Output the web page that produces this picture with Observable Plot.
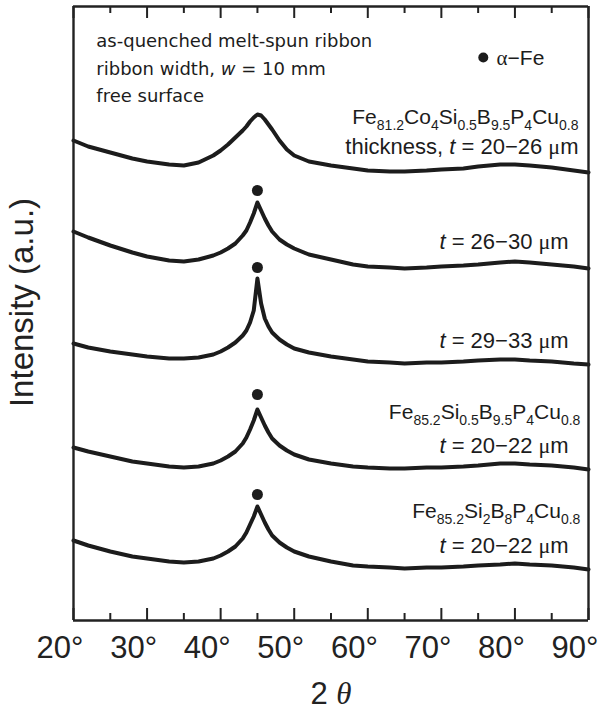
<!DOCTYPE html>
<html><head><meta charset="utf-8">
<script src="https://cdn.jsdelivr.net/npm/d3@7"></script>
<script src="https://cdn.jsdelivr.net/npm/@observablehq/plot@0.6"></script>
<style>body{margin:0;background:#fff}#chart{width:599px;height:716px}</style>
</head><body><div id="chart"></div>
<script>
// 2θ sample positions (degrees)
const theta = [20,22,25,28,30,33,35,37,39,40,41,42,43,43.5,44,44.5,45,45.5,46,46.5,47,48,49,50,52,55,58,60,63,65,68,70,73,75,78,80,82,85,88,90];
// stacked intensities (a.u., offsets included)
const fe812Co_t20_26 = [480,474,468,462,459,456,455,458,465,470,476,483,490,494,499,503,506,505,501,496,491,480,471,465,459,455,452,450,449,449,450,451,452,454,456,456,455,453,450,448];
const fe812Co_t26_30 = [389,383,375,368,364,360,359,361,365,368,372,377,385,390,398,407,418,410,402,395,389,381,376,372,366,361,356,354,353,352,353,354,355,356,358,359,358,356,354,352];
const fe812Co_t29_33 = [277,273,269,266,264,262,262,263,266,269,273,278,285,290,298,310,342,317,302,294,288,281,276,272,268,264,261,259,258,257,258,258,259,260,261,261,260,259,257,256];
const fe852Si05_t20_22 = [173,169,164,159,157,154,153,154,157,160,164,169,177,183,191,200,211,203,195,188,182,175,170,166,161,157,154,153,152,152,153,153,154,155,157,157,156,155,153,151];
const fe852Si2_t20_22 = [80,75,69,64,62,59,58,59,62,65,69,74,82,88,96,104,114,106,98,91,85,78,73,69,64,59,55,54,53,52,53,53,54,55,56,57,56,55,53,51];
const seriesNames = ["Fe81.2Co4 t=20-26","Fe81.2Co4 t=26-30","Fe81.2Co4 t=29-33","Fe85.2Si0.5 t=20-22","Fe85.2Si2 t=20-22"];
const seriesValues = [fe812Co_t20_26, fe812Co_t26_30, fe812Co_t29_33, fe852Si05_t20_22, fe852Si2_t20_22];
// α-Fe markers
const alphaFeTheta = [45,45,45,45];
const alphaFeIntensity = [430,353,226,126];
// axis ticks
const majorTicks = [20,30,40,50,60,70,80,90];
const minorTicks = [25,35,45,55,65,75,85];
const tickLabels = ["20°","30°","40°","50°","60°","70°","80°","90°"];
// texts (markup: _{sub} *{italic} ~{serif} ^{serif italic})
const notes = ["as-quenched melt-spun ribbon","ribbon width, *{w} = 10 mm","free surface"];
const legendText = "~{α}−Fe";
const labels = [
  "Fe_{81.2}Co_{4}Si_{0.5}B_{9.5}P_{4}Cu_{0.8}",
  "thickness, *{t} = 20−26 ~{μ}m",
  "*{t} = 26−30 ~{μ}m",
  "*{t} = 29−33 ~{μ}m",
  "Fe_{85.2}Si_{0.5}B_{9.5}P_{4}Cu_{0.8}",
  "*{t} = 20−22 ~{μ}m",
  "Fe_{85.2}Si_{2}B_{8}P_{4}Cu_{0.8}",
  "*{t} = 20−22 ~{μ}m"
];
const xLabel = "2 ^{θ}";
const yLabel = "Intensity (a.u.)";

const rows = seriesNames.flatMap((name, i) => theta.map((t, j) => ({name, theta: t, intensity: seriesValues[i][j]})));
const dots = alphaFeTheta.map((t, i) => ({theta: t, intensity: alphaFeIntensity[i]}));

const sans = "'Liberation Sans',Arial,sans-serif";
const ink = "#1c1c1c";
const axisInk = "#222";

const lab = (i, x, y, size) => Plot.text([labels[i]], {x, y, text: d => d, textAnchor: "end", lineAnchor: "bottom", fontSize: size, fontFamily: sans, fill: ink});
const note = (i, y) => Plot.text([notes[i]], {x: 23.1, y, text: d => d, textAnchor: "start", lineAnchor: "bottom", fontSize: 18, fontFamily: "'DejaVu Sans',sans-serif", fill: ink});

const chart = Plot.plot({
  width: 599, height: 716,
  marginLeft: 73, marginRight: 11, marginTop: 6, marginBottom: 96,
  x: {domain: [20, 90], axis: null},
  y: {domain: [0, 614], axis: null},
  marks: [
    Plot.line(rows, {x: "theta", y: "intensity", z: "name", stroke: ink, strokeWidth: 4, strokeLinejoin: "round"}),
    Plot.dot(dots, {x: "theta", y: "intensity", r: 5.5, fill: ink, stroke: "none"}),
    // tick labels and axis titles
    Plot.text(majorTicks, {x: d => d, frameAnchor: "bottom", text: (d, i) => tickLabels[i], textAnchor: "end", dx: 10, dy: 37, lineAnchor: "bottom", fontSize: 31, fontFamily: sans, fill: "#222"}),
    Plot.text([xLabel], {x: 55, frameAnchor: "bottom", text: d => d, dy: 83, lineAnchor: "bottom", fontSize: 31, fontFamily: sans, fill: "#222"}),
    Plot.text([yLabel], {x: 13.0, y: 318, text: d => d, rotate: -90, lineAnchor: "middle", fontSize: 33, fontFamily: sans, fill: "#222"}),
    // annotations
    note(0, 573.5), note(1, 546), note(2, 519),
    Plot.dot([0], {x: 75.7, y: 563, r: 5, fill: ink, stroke: "none"}),
    Plot.text([legendText], {x: 77.5, y: 556, text: d => d, textAnchor: "start", lineAnchor: "bottom", fontSize: 21, fontFamily: sans, fill: ink}),
    lab(0, 88.64, 497, 21),
    lab(1, 88.64, 467, 22),
    lab(2, 87.3, 372, 22),
    lab(3, 87.3, 273, 22),
    lab(4, 88.9, 202, 21),
    lab(5, 87.3, 168, 22),
    lab(6, 88.9, 103, 21),
    lab(7, 87.3, 68, 22),
    // inward ticks (bottom and top) and the plot frame, drawn last
    Plot.ruleX(majorTicks, {x: d => d, y1: 0, y2: 12, stroke: axisInk, strokeWidth: 2}),
    Plot.ruleX(minorTicks, {x: d => d, y1: 0, y2: 7, stroke: axisInk, strokeWidth: 2}),
    Plot.ruleX(majorTicks, {x: d => d, y1: 602, y2: 614, stroke: axisInk, strokeWidth: 2}),
    Plot.ruleX(minorTicks, {x: d => d, y1: 607, y2: 614, stroke: axisInk, strokeWidth: 2}),
    Plot.ruleY([0, 614], {stroke: axisInk, strokeWidth: 2.4}),
    Plot.ruleX([20, 90], {y1: 0, y2: 614, stroke: axisInk, strokeWidth: 2.4})
  ]
});

function rich(svg) {
  d3.select(svg).selectAll("text").each(function() {
    const s = this.textContent;
    if (!/[_*~^]\{/.test(s)) return;
    const parts = [];
    const re = /([_*~^])\{([^}]*)\}/g;
    let last = 0, m;
    while ((m = re.exec(s))) {
      if (m.index > last) parts.push({t: s.slice(last, m.index)});
      parts.push({t: m[2], k: m[1]});
      last = re.lastIndex;
    }
    if (last < s.length) parts.push({t: s.slice(last)});
    this.textContent = "";
    let shift = 0;
    for (const p of parts) {
      const ts = d3.select(this).append("tspan").text(p.t);
      const want = p.k === "_" ? 6 : 0;
      if (want !== shift) { ts.attr("dy", want - shift); shift = want; }
      if (p.k === "_") ts.attr("font-size", 14);
      if (p.k === "*") ts.attr("font-style", "italic");
      if (p.k === "~") ts.attr("font-family", "'Liberation Serif','Times New Roman',serif");
      if (p.k === "^") ts.attr("font-family", "'Liberation Serif','Times New Roman',serif").attr("font-style", "italic");
    }
  });
}
rich(chart);
document.getElementById("chart").appendChild(chart);
</script>
</body></html>
